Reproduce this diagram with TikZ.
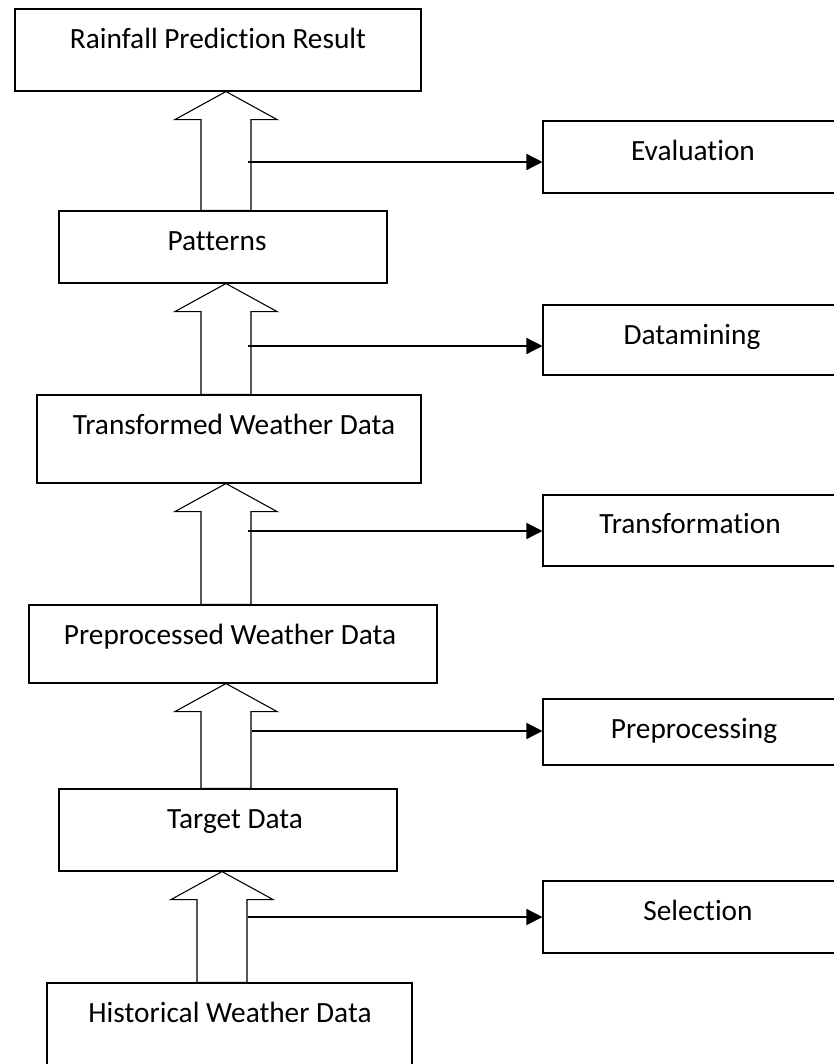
\documentclass[tikz,border=0pt]{standalone}
\usepackage{fontspec}
\setmainfont{Carlito}[Ligatures=CommonOff]
\usetikzlibrary{arrows.meta,fit,calc}

\tikzset{
  box/.style={draw=black, line width=0.8pt, inner sep=0pt, fill=white},
  lbl/.style={anchor=base, inner sep=0pt, font=\fontsize{22}{26}\selectfont},
  blk/.style={draw=black, line width=0.8pt, fill=white, line join=miter},
  conn/.style={draw=black, line width=1.1pt, -{Triangle[length=12pt,width=12pt]}}
}

% hollow upward block arrow: #1 centre x, #2 upper box, #3 lower box
\newcommand\blockup[3]{%
  \coordinate (tip) at (#1,0 |- #2.south);
  \draw[blk] (tip) -- ++(51,28) coordinate (hr) -- ++(-26,0) coordinate (sr)
    -- (sr |- #3.north) -- ++(-50,0) coordinate (sl) -- (sl |- hr)
    -- ++(-26,0) -- cycle;
}

\begin{document}
\begin{tikzpicture}[x=0.75pt,y=-0.75pt]
\useasboundingbox (0,0) rectangle (834,1064);
\clip (0,0) rectangle (834,1064);

% main chain of boxes
\node[box, fit={(15,9) (421,91)}]    (rain) {};
\node[box, fit={(59,211) (387,283)}] (pat)  {};
\node[box, fit={(37,395) (421,483)}] (trd)  {};
\node[box, fit={(29,605) (437,683)}] (prd)  {};
\node[box, fit={(59,789) (397,871)}] (tgt)  {};
\node[box, fit={(47,983) (412,1075)}] (hist) {};

\node[lbl] (rainT) at (218,48)  {Rainfall Prediction Result};
\node[lbl] (patT)  at (217,250) {Patterns};
\node[lbl] (trdT)  at (234,434) {Transformed Weather Data};
\node[lbl] (prdT)  at (230,644) {Preprocessed Weather Data};
\node[lbl] (tgtT)  at (235,828) {Target Data};
\node[lbl] (histT) at (230,1022) {Historical Weather Data};

% process step boxes on the right
\node[box, fit={(543,121) (842,193)}] (eva)  {};
\node[box, fit={(543,305) (842,375)}] (dmn)  {};
\node[box, fit={(543,495) (842,566)}] (tfm)  {};
\node[box, fit={(543,699) (842,765)}] (pre)  {};
\node[box, fit={(543,881) (842,953)}] (sel)  {};

\node[lbl] (evaT) at (693,160) {Evaluation};
\node[lbl] (dmnT) at (692,344) {Datamining};
\node[lbl] (tfmT) at (690,533) {Transformation};
\node[lbl] (preT) at (694,738) {Preprocessing};
\node[lbl] (selT) at (698,920) {Selection};

% block arrows between stages
\blockup{226}{rain}{pat}
\blockup{226}{pat}{trd}
\blockup{226}{trd}{prd}
\blockup{226}{prd}{tgt}
\blockup{222}{tgt}{hist}

% branches to the process steps
\coordinate (c1) at (248,162);
\coordinate (c2) at (248,346);
\coordinate (c3) at (248,531);
\coordinate (c4) at (252,731);
\coordinate (c5) at (248,917);
\draw[conn] (c1) -- (c1 -| eva.west);
\draw[conn] (c2) -- (c2 -| dmn.west);
\draw[conn] (c3) -- (c3 -| tfm.west);
\draw[conn] (c4) -- (c4 -| pre.west);
\draw[conn] (c5) -- (c5 -| sel.west);
\end{tikzpicture}
\end{document}
